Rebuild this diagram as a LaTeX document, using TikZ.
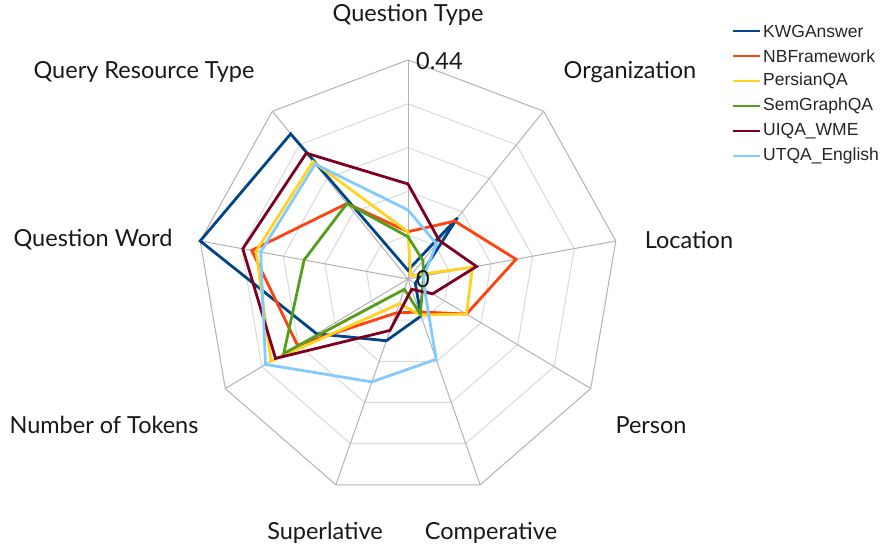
\documentclass[tikz,border=0pt]{standalone}
\usepackage{fontspec}
\setmainfont{Lato}
\newfontfamily\legfont{Liberation Sans}
\definecolor{cKWG}{HTML}{004586}
\definecolor{cNB}{HTML}{FF420E}
\definecolor{cPer}{HTML}{FFD320}
\definecolor{cSem}{HTML}{579D1C}
\definecolor{cUIQA}{HTML}{7E0021}
\definecolor{cUTQA}{HTML}{83CAFF}
\definecolor{ringgray}{HTML}{DADADA}
\definecolor{spokegray}{HTML}{B3B3B3}
\begin{document}
\begin{tikzpicture}[x=1pt,y=-1pt,
  series/.style={line width=2.8pt, line join=miter},
  ring/.style={draw=ringgray, line width=1pt},
  outerring/.style={draw=spokegray, line width=1pt},
  spoke/.style={draw=spokegray, line width=1pt},
  axislabel/.style={font=\fontsize{23.5}{27}\selectfont, inner sep=0pt, text=black!90},
  legline/.style={line width=2.8pt},
  legtext/.style={font=\legfont\fontsize{17.5}{20}\selectfont, inner sep=0pt, anchor=west, text=black!85}]
\useasboundingbox (0,0) rectangle (881,552);
\fill[white] (0,0) rectangle (881,552);
\begin{scope}[x={(211pt,0pt)}, y={(0pt,219pt)}, shift={(408pt,-279pt)}]
  % rings
  \foreach \r in {0.2,0.4,0.6,0.8}
    \draw[ring] (90:\r) \foreach \a in {50,10,-30,-70,-110,-150,170,130}{ -- (\a:\r)} -- cycle;
  \foreach \a in {90,50,10,-30,-70,-110,-150,170,130}
    \draw[spoke] (0,0) -- (\a:1);
  \draw[outerring] (90:1) \foreach \a in {50,10,-30,-70,-110,-150,170,130}{ -- (\a:1)} -- cycle;
  % series: QT, Org, Loc, Person, Comp, Sup, NoT, QW, QRT
  \draw[series, cKWG] (90:0.04) -- (50:0.365) -- (10:0.055) -- (-30:0.04) -- (-70:0.18) -- (-110:0.30) -- (-150:0.50) -- (170:1.00) -- (130:0.865) -- cycle;
  \draw[series, cNB] (90:0.216) -- (50:0.345) -- (10:0.52) -- (-30:0.32) -- (-70:0.16) -- (-110:0.165) -- (-150:0.605) -- (170:0.752) -- (130:0.45) -- cycle;
  \draw[series, cPer] (90:0.215) -- (50:0.02) -- (10:0.31) -- (-30:0.32) -- (-70:0.175) -- (-110:0.12) -- (-150:0.75) -- (170:0.731) -- (130:0.70) -- cycle;
  \draw[series, cSem] (90:0.193) -- (50:0.11) -- (10:0.075) -- (-30:0.08) -- (-70:0.17) -- (-110:0.05) -- (-150:0.68) -- (170:0.50) -- (130:0.45) -- cycle;
  \draw[series, cUIQA] (90:0.434) -- (50:0.23) -- (10:0.33) -- (-30:0.135) -- (-70:0.05) -- (-110:0.25) -- (-150:0.725) -- (170:0.795) -- (130:0.75) -- cycle;
  \draw[series, cUTQA] (90:0.315) -- (50:0.21) -- (10:0.075) -- (-30:0.09) -- (-70:0.39) -- (-110:0.50) -- (-150:0.78) -- (170:0.709) -- (130:0.685) -- cycle;
\end{scope}
% axis labels
\node[axislabel] (lqt) at (408,15) {Question Type};
\node[axislabel, anchor=west] (lmax) at (416,61) {0.44};
\node[axislabel] (lzero) at (423,279) {0};
\node[axislabel] (lorg) at (630,72) {Organization};
\node[axislabel] (lloc) at (689,240) {Location};
\node[axislabel] (lper) at (651,425) {Person};
\node[axislabel] (lcomp) at (491,533) {Comperative};
\node[axislabel] (lsup) at (325,533) {Superlative};
\node[axislabel] (lnot) at (104,425) {Number of Tokens};
\node[axislabel] (lqw) at (93,240) {Question Word};
\node[axislabel] (lqrt) at (144,72) {Query Resource Type};
% legend
\coordinate (k1a) at (733,31);  \coordinate (k1b) at (760,31);
\coordinate (k2a) at (733,56);  \coordinate (k2b) at (760,56);
\coordinate (k3a) at (733,81);  \coordinate (k3b) at (760,81);
\coordinate (k4a) at (733,106); \coordinate (k4b) at (760,106);
\coordinate (k5a) at (733,131); \coordinate (k5b) at (760,131);
\coordinate (k6a) at (733,156); \coordinate (k6b) at (760,156);
\draw[legline, cKWG] (k1a) -- (k1b);
\draw[legline, cNB] (k2a) -- (k2b);
\draw[legline, cPer] (k3a) -- (k3b);
\draw[legline, cSem] (k4a) -- (k4b);
\draw[legline, cUIQA] (k5a) -- (k5b);
\draw[legline, cUTQA] (k6a) -- (k6b);
\node[legtext] (t1) at (763,31) {KWGAnswer};
\node[legtext] (t2) at (763,56) {NBFramework};
\node[legtext] (t3) at (763,81) {PersianQA};
\node[legtext] (t4) at (763,106) {SemGraphQA};
\node[legtext] (t5) at (763,131) {UIQA\_WME};
\node[legtext] (t6) at (763,156) {UTQA\_English};
\end{tikzpicture}
\end{document}
